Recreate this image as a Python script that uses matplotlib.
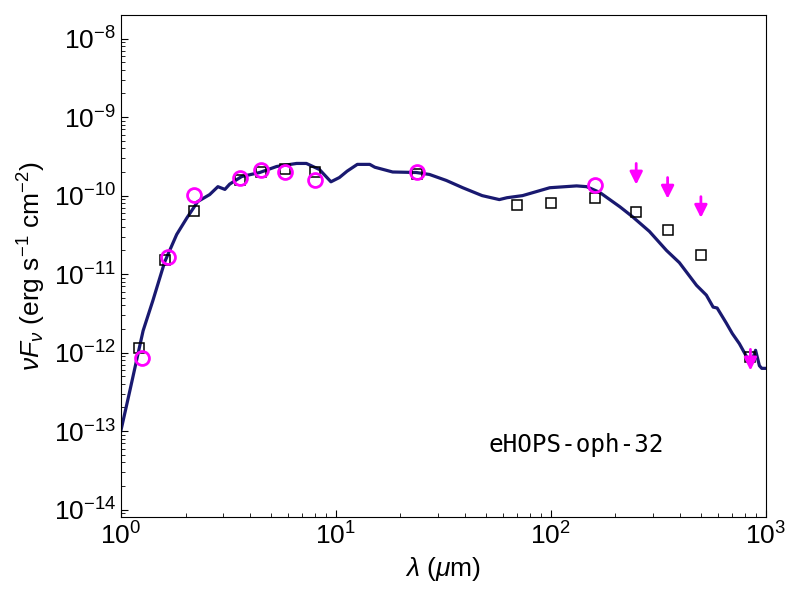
import numpy as np
import matplotlib
matplotlib.use('Agg')
import matplotlib.pyplot as plt

plt.rcParams['font.family'] = ['Liberation Sans', 'DejaVu Sans']
plt.rcParams['mathtext.fontset'] = 'custom'
plt.rcParams['mathtext.rm'] = 'Liberation Sans'
plt.rcParams['mathtext.it'] = 'Liberation Sans:italic'

# model SED
model_wav = [1.0, 1.10, 1.27, 1.41, 1.60, 1.82, 2.03, 2.28, 2.59, 2.83, 3.05, 3.21,
             3.65, 4.43, 5.31, 6.58, 7.3, 8.4, 9.5, 10.4, 11.3, 12.6, 14.4, 15.2,
             18.4, 23.7, 27.3, 32.7, 39, 48, 57.7, 62.6, 74, 99, 132, 147, 169,
             210, 240, 288, 346, 397, 477, 530, 570, 595, 655, 700, 755, 821,
             870, 898, 936, 960, 1000]
model_flux = [1.0e-13, 3.2e-13, 1.9e-12, 4.6e-12, 1.43e-11, 3.2e-11, 5.2e-11, 8.4e-11,
              1.03e-10, 1.3e-10, 1.2e-10, 1.4e-10, 1.75e-10, 1.97e-10, 2.35e-10,
              2.57e-10, 2.57e-10, 2.15e-10, 1.5e-10, 1.7e-10, 2.05e-10, 2.5e-10,
              2.5e-10, 2.3e-10, 2.0e-10, 1.97e-10, 1.86e-10, 1.56e-10, 1.26e-10,
              1.0e-10, 8.9e-11, 9.4e-11, 1.0e-10, 1.26e-10, 1.33e-10, 1.3e-10,
              1.1e-10, 7.2e-11, 5.4e-11, 3.5e-11, 2.0e-11, 1.4e-11, 7.2e-12,
              5.4e-12, 3.8e-12, 3.7e-12, 2.4e-12, 1.75e-12, 1.3e-12, 8.6e-13,
              8.3e-13, 1.07e-12, 6.8e-13, 6.3e-13, 6.3e-13]

# model photometry (squares)
sq_wav = [1.21, 1.6, 2.2, 3.6, 4.5, 5.8, 8.0, 24, 70, 100, 160, 250, 350, 500, 850]
sq_flux = [1.16e-12, 1.5e-11, 6.4e-11, 1.6e-10, 2.0e-10, 2.2e-10, 2.0e-10, 1.9e-10,
           7.7e-11, 8.1e-11, 9.4e-11, 6.2e-11, 3.6e-11, 1.75e-11, 8.9e-13]

# observed photometry (circles)
obs_wav = [1.25, 1.65, 2.2, 3.6, 4.5, 5.8, 8.0, 24, 160]
obs_flux = [8.6e-13, 1.66e-11, 1.03e-10, 1.7e-10, 2.1e-10, 2.0e-10, 1.6e-10, 2.0e-10, 1.38e-10]

# upper limits
lim_wav = [250, 350, 500, 850]
lim_flux = [2.57e-10, 1.7e-10, 9.7e-11, 1.1e-12]

fig = plt.figure(figsize=(8, 6), dpi=100)
ax = fig.add_axes([0.151, 0.138, 0.806, 0.837])

ax.plot(model_wav, model_flux, color='#191970', lw=2.3, zorder=2)
ax.plot(sq_wav, sq_flux, 's', mfc='none', mec='black', ms=7, mew=1.1, zorder=3)
ax.plot(obs_wav, obs_flux, 'o', mfc='none', mec='magenta', ms=10, mew=2, zorder=4)
for xw, yf in zip(lim_wav, lim_flux):
    ax.annotate('', xy=(xw, yf * 10**-0.27), xytext=(xw, yf),
                arrowprops=dict(arrowstyle='-|>', color='magenta', lw=2,
                                mutation_scale=19, shrinkA=0, shrinkB=0),
                zorder=5)

ax.set_xscale('log')
ax.set_yscale('log')
ax.set_xlim(1, 1000)
ax.set_ylim(8e-15, 2e-8)
ax.tick_params(which='both', direction='in', labelsize=19, top=False, right=False)
ax.tick_params(which='major', length=5)
ax.tick_params(which='minor', length=3)

ax.set_xlabel(r'$\lambda$ ($\mu$m)', fontsize=19)
ax.set_ylabel(r'$\nu F_\nu$ (erg s$^{-1}$ cm$^{-2}$)', fontsize=19)

ax.text(0.707, 0.143, 'eHOPS-oph-32', transform=ax.transAxes, ha='center', va='center',
        fontsize=17.5, family='DejaVu Sans Mono')

fig.savefig('out.png', dpi=100)
